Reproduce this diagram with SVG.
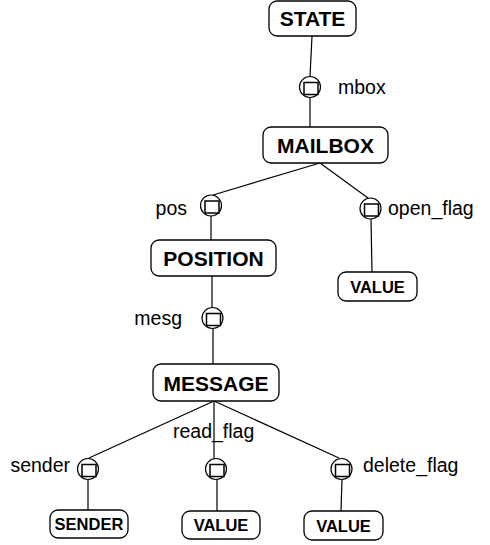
<svg xmlns="http://www.w3.org/2000/svg" width="490" height="545" viewBox="0 0 490 545">
<style>
.box{fill:#fff;stroke:#000;stroke-width:1.3}
.port{fill:#fff;stroke:#000;stroke-width:1.2}
.sq{fill:#fff;stroke:#000;stroke-width:1.5}
.edge{stroke:#000;stroke-width:1.2;fill:none}
.big{font-family:"Liberation Sans",Arial,sans-serif;font-weight:bold;font-size:21px;text-anchor:middle}
.small{font-family:"Liberation Sans",Arial,sans-serif;font-weight:bold;font-size:16.5px;text-anchor:middle}
.lbl{font-family:"Liberation Sans",Arial,sans-serif;font-size:19.5px}
</style>
<rect width="490" height="545" fill="#fff"/>
<g id="connectors">
<line class="edge" x1="312" y1="36" x2="310" y2="76.5"/>
<line class="edge" x1="310" y1="97.5" x2="310" y2="127"/>
<line class="edge" x1="320" y1="163" x2="213" y2="195"/>
<line class="edge" x1="320" y1="163" x2="368" y2="198"/>
<line class="edge" x1="211" y1="216" x2="211" y2="240"/>
<line class="edge" x1="371" y1="219" x2="372" y2="272"/>
<line class="edge" x1="212" y1="276" x2="212" y2="307.5"/>
<line class="edge" x1="213" y1="328.5" x2="213" y2="364"/>
<line class="edge" x1="214" y1="401" x2="89" y2="458"/>
<line class="edge" x1="214" y1="401" x2="214" y2="458.5"/>
<line class="edge" x1="214" y1="401" x2="339" y2="458"/>
<line class="edge" x1="88" y1="479.5" x2="88" y2="510"/>
<line class="edge" x1="217" y1="479.5" x2="217" y2="511"/>
<line class="edge" x1="342" y1="479.5" x2="341" y2="511"/>
</g>
<g id="STATE"><rect class="box" x="269" y="1" width="87" height="35" rx="8"/><text class="big" x="312.5" y="26">STATE</text></g>
<g id="mbox"><circle class="port" cx="310" cy="87" r="10.5"/><rect class="sq" x="304" y="82.5" width="14" height="12"/><text class="lbl" x="338" y="94">mbox</text></g>
<g id="MAILBOX"><rect class="box" x="263" y="127" width="125" height="36" rx="8"/><text class="big" x="325.5" y="153">MAILBOX</text></g>
<g id="pos"><circle class="port" cx="211" cy="205.5" r="10.5"/><rect class="sq" x="205" y="201" width="14" height="12"/><text class="lbl" x="187" y="215" text-anchor="end">pos</text></g>
<g id="open_flag"><circle class="port" cx="370.5" cy="208.5" r="10.5"/><rect class="sq" x="364.5" y="204" width="14" height="12"/><text class="lbl" x="388" y="215">open_flag</text></g>
<g id="POSITION"><rect class="box" x="151" y="240" width="125" height="36" rx="8"/><text class="big" x="213.5" y="266">POSITION</text></g>
<g id="VALUE1"><rect class="box" x="338" y="272" width="79" height="29" rx="8"/><text class="small" x="377.5" y="293">VALUE</text></g>
<g id="mesg"><circle class="port" cx="212.5" cy="318" r="10.5"/><rect class="sq" x="206.5" y="313.5" width="14" height="12"/><text class="lbl" x="182" y="325" text-anchor="end">mesg</text></g>
<g id="MESSAGE"><rect class="box" x="153" y="364" width="126" height="37" rx="8"/><text class="big" x="216" y="391">MESSAGE</text></g>
<g id="sender"><circle class="port" cx="88" cy="469" r="10.5"/><rect class="sq" x="82" y="464.5" width="14" height="12"/><text class="lbl" x="70" y="472" text-anchor="end">sender</text></g>
<g id="read_flag"><circle class="port" cx="216" cy="469" r="10.5"/><rect class="sq" x="210" y="464.5" width="14" height="12"/><text class="lbl" x="173" y="438">read_flag</text></g>
<g id="delete_flag"><circle class="port" cx="341.5" cy="469" r="10.5"/><rect class="sq" x="335.5" y="464.5" width="14" height="12"/><text class="lbl" x="363" y="472">delete_flag</text></g>
<g id="SENDER"><rect class="box" x="50" y="510" width="78" height="28" rx="8"/><text class="small" x="89" y="530">SENDER</text></g>
<g id="VALUE2"><rect class="box" x="182" y="511" width="78" height="28" rx="8"/><text class="small" x="221" y="531">VALUE</text></g>
<g id="VALUE3"><rect class="box" x="304" y="511" width="79" height="29" rx="8"/><text class="small" x="343.5" y="532">VALUE</text></g>
</svg>
